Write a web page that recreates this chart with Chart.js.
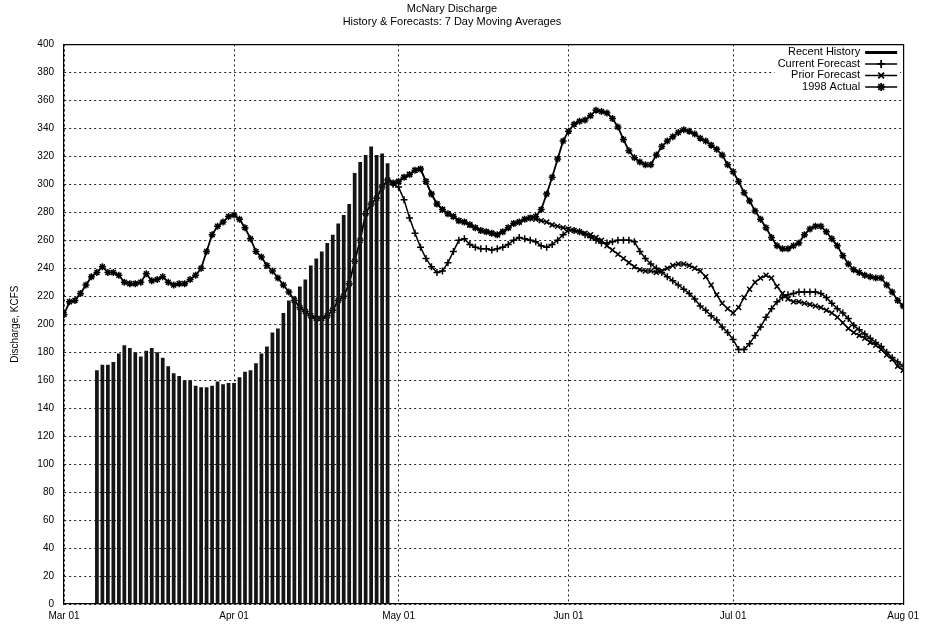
<!DOCTYPE html>
<html>
<head>
<meta charset="utf-8">
<title>McNary Discharge</title>
<script src="https://cdn.jsdelivr.net/npm/chart.js@4.4.0/dist/chart.umd.min.js"></script>
<style>
body { margin:0; background:#fff; }
#plots { width:925px; height:628px; }
</style>
</head>
<body>
<div id="plots"><canvas id="canvas_1" width="925" height="628"></canvas></div>
<script>
// x is counted in days from Mar 01 (0) to Aug 01 (153)
var monthDays = [0, 31, 61, 92, 122, 153];
var monthLabels = ['Mar 01', 'Apr 01', 'May 01', 'Jun 01', 'Jul 01', 'Aug 01'];

var seriesNames = ['Recent History', 'Current Forecast', 'Prior Forecast', '1998 Actual'];

// daily values, KCFS
var historyStart = 6;   // Mar 07
var recentHistory = [167, 171, 171, 173, 179, 185, 183, 180, 177, 181, 183, 180, 176, 170, 165,
  163, 160, 160, 156, 155, 155, 156, 159, 157, 158, 158, 162, 166, 167, 172,
  179, 184, 194, 197, 208, 217, 220, 227, 232, 242, 247, 252, 258, 264, 272,
  278, 286, 308, 316, 321, 327, 321, 322, 315];

var forecastStart = 60; // Apr 30
var currentForecast = [300, 298, 289, 276, 265, 255, 247, 241, 237, 238,
  244, 252, 260, 261, 257, 255, 254, 254, 253, 254,
  255, 257, 260, 262, 261, 260, 259, 256, 255, 257,
  260, 264, 267, 267, 266, 264, 262, 260, 258, 258,
  259, 260, 260, 260, 259, 252, 247, 243, 240, 237,
  234, 231, 228, 225, 222, 218, 213, 210, 206, 203,
  198, 194, 189, 182, 182, 186, 192, 198, 205, 211,
  216, 219, 221, 222, 223, 223, 223, 223, 222, 219,
  215, 211, 208, 204, 199, 196, 193, 190, 187, 184,
  180, 176, 173, 170];

var priorForecast = [301, 302, 305, 307, 310, 311, 302, 293, 286, 282,
  279, 277, 274, 273, 271, 269, 267, 266, 265, 264,
  266, 269, 272, 273, 275, 276, 275, 274, 273, 271,
  270, 269, 268, 267, 266, 265, 264, 262, 260, 256,
  253, 250, 247, 244, 241, 239, 238, 238, 237, 238,
  240, 242, 243, 243, 242, 240, 238, 234, 228, 221,
  215, 211, 208, 212, 219, 225, 230, 233, 235, 233,
  227, 222, 218, 216, 216, 215, 214, 213, 212, 210,
  208, 205, 201, 197, 194, 192, 190, 187, 185, 182,
  178, 175, 170, 167];

var actualStart = 0;    // Mar 01
var actual1998 = [207, 216, 217, 222, 228, 234, 237, 241, 237, 237,
  235, 230, 229, 229, 230, 236, 231, 232, 234, 230,
  228, 229, 229, 232, 235, 240, 252, 264, 270, 273,
  277, 278, 275, 269, 261, 252, 248, 242, 238, 233,
  228, 223, 217, 212, 209, 206, 204, 204, 206, 210,
  217, 220, 229, 245, 260, 279, 286, 290, 298, 303,
  301, 302, 305, 307, 310, 311, 302, 293, 286, 282,
  279, 277, 274, 273, 271, 269, 267, 266, 265, 264,
  266, 269, 272, 273, 275, 276, 277, 282, 293, 305,
  318, 331, 338, 343, 345, 346, 349, 353, 352, 351,
  347, 341, 332, 324, 319, 316, 314, 314, 321, 327,
  331, 334, 337, 339, 338, 336, 333, 331, 328, 325,
  321, 314, 309, 302, 294, 288, 281, 275, 269, 262,
  256, 254, 254, 256, 258, 264, 268, 270, 270, 266,
  261, 256, 249, 243, 239, 237, 235, 234, 233, 233,
  228, 223, 217, 213];

var FONT = '"Liberation Sans", Arial, Helvetica, sans-serif';

function toPoints(start, values) {
	var pts = [];
	for (var i = 0; i < values.length; i++) { pts.push({x: start + i, y: values[i]}); }
	return pts;
}

function drawMark(ctx, style, x, y, r) {
	ctx.beginPath();
	if (style == 'cross' || style == 'star') {
		ctx.moveTo(x - r, y); ctx.lineTo(x + r, y);
		ctx.moveTo(x, y - r); ctx.lineTo(x, y + r);
	}
	if (style == 'crossRot' || style == 'star') {
		var d = r * 0.72;
		ctx.moveTo(x - d, y - d); ctx.lineTo(x + d, y + d);
		ctx.moveTo(x - d, y + d); ctx.lineTo(x + d, y - d);
	}
	ctx.stroke();
}

// legend (key) in the upper right corner of the plot, sample line right of the text
var cornerLegend = {
	id: 'cornerLegend',
	afterDraw: function(chart) {
		var ctx = chart.ctx;
		var area = chart.chartArea;
		var marks = [null, 'cross', 'crossRot', 'star'];
		var x0 = area.right - 38;
		var x1 = area.right - 6;
		ctx.save();
		ctx.font = '11px ' + FONT;
		var widest = 0;
		for (var k = 0; k < seriesNames.length; k++) { widest = Math.max(widest, ctx.measureText(seriesNames[k]).width); }
		// the key area is cleared like gnuplot does
		ctx.fillStyle = '#fff';
		ctx.fillRect(x0 - 5 - widest - 3, area.top + 2, widest + 3 + 5 + (x1 - x0) + 3, seriesNames.length * 11.5 + 1);
		ctx.textAlign = 'right';
		ctx.textBaseline = 'middle';
		ctx.fillStyle = '#000';
		ctx.strokeStyle = '#000';
		for (var i = 0; i < seriesNames.length; i++) {
			var y = area.top + 8 + i * 11.5;
			ctx.fillText(seriesNames[i], x0 - 5, y);
			ctx.lineWidth = (i == 0) ? 3 : 1.5;
			ctx.beginPath(); ctx.moveTo(x0, y); ctx.lineTo(x1, y); ctx.stroke();
			if (marks[i]) { ctx.lineWidth = 1.8; drawMark(ctx, marks[i], (x0 + x1) / 2, y, 4); }
		}
		ctx.restore();
	}
};

var lineStyle = function(label, data, pointStyle, width) {
	return {
		type: 'line',
		label: label,
		data: data,
		borderColor: '#000',
		backgroundColor: '#000',
		borderWidth: width,
		pointStyle: pointStyle,
		pointRadius: 3.5,
		pointBorderWidth: 1.5,
		pointBorderColor: '#000',
		pointBackgroundColor: '#000',
		tension: 0,
		fill: false
	};
};

var canvasToDraw = document.getElementById('canvas_1');

var newChart = new Chart(canvasToDraw, {
	type: 'bar',
	data: {
		datasets: [
			{
				type: 'bar',
				label: seriesNames[0],
				data: toPoints(historyStart, recentHistory),
				backgroundColor: '#151515',
				borderWidth: 0,
				barPercentage: 0.68,
				categoryPercentage: 1.0
			},
			lineStyle(seriesNames[1], toPoints(forecastStart, currentForecast), 'cross', 1.5),
			lineStyle(seriesNames[2], toPoints(forecastStart, priorForecast), 'crossRot', 1.5),
			lineStyle(seriesNames[3], toPoints(actualStart, actual1998), 'star', 1.8)
		]
	},
	options: {
		responsive: false,
		animation: false,
		layout: { padding: { left: 0, right: 21, top: 0, bottom: 0 } },
		plugins: {
			legend: { display: false },
			tooltip: { enabled: false },
			title: {
				display: true,
				text: ['McNary Discharge', 'History & Forecasts: 7 Day Moving Averages'],
				color: '#000',
				font: { family: FONT, size: 11, weight: 'normal', lineHeight: 1.2 },
				padding: { top: 2, bottom: 16 }
			}
		},
		scales: {
			x: {
				type: 'linear',
				position: 'bottom',
				min: 0,
				max: 153,
				offset: false,
				afterBuildTicks: function(s) { s.ticks = monthDays.map(function(d) { return {value: d}; }); },
				afterFit: function(s) { s.height = 24; },
				ticks: {
					autoSkip: false,
					maxRotation: 0,
					padding: 6,
					color: '#000',
					font: { family: FONT, size: 10 },
					callback: function(v) { return monthLabels[monthDays.indexOf(v)]; }
				},
				grid: { color: '#222', lineWidth: 1, drawTicks: false, offset: false },
				border: { display: true, color: '#000', width: 1.2, dash: [2, 3] }
			},
			y: {
				position: 'left',
				min: 0,
				max: 400,
				afterFit: function(s) { s.width = 64; },
				ticks: {
					stepSize: 20,
					padding: 10,
					color: '#000',
					font: { family: FONT, size: 10 }
				},
				grid: { color: '#222', lineWidth: 1, drawTicks: false },
				border: { display: true, color: '#000', width: 1.2, dash: [2, 3] },
				title: {
					display: true,
					text: 'Discharge, KCFS',
					color: '#000',
					font: { family: FONT, size: 10 },
					padding: { top: 9, bottom: 0 }
				}
			},
			xTop: {
				type: 'linear',
				position: 'top',
				min: 0,
				max: 153,
				afterFit: function(s) { s.height = 0; },
				ticks: { display: false },
				grid: { display: false, drawTicks: false },
				border: { display: true, color: '#000', width: 1.2 }
			},
			yRight: {
				type: 'linear',
				position: 'right',
				min: 0,
				max: 400,
				afterFit: function(s) { s.width = 0; },
				ticks: { display: false },
				grid: { display: false, drawTicks: false },
				border: { display: true, color: '#000', width: 1.2 }
			}
		}
	},
	plugins: [cornerLegend]
});
</script>
</body>
</html>
